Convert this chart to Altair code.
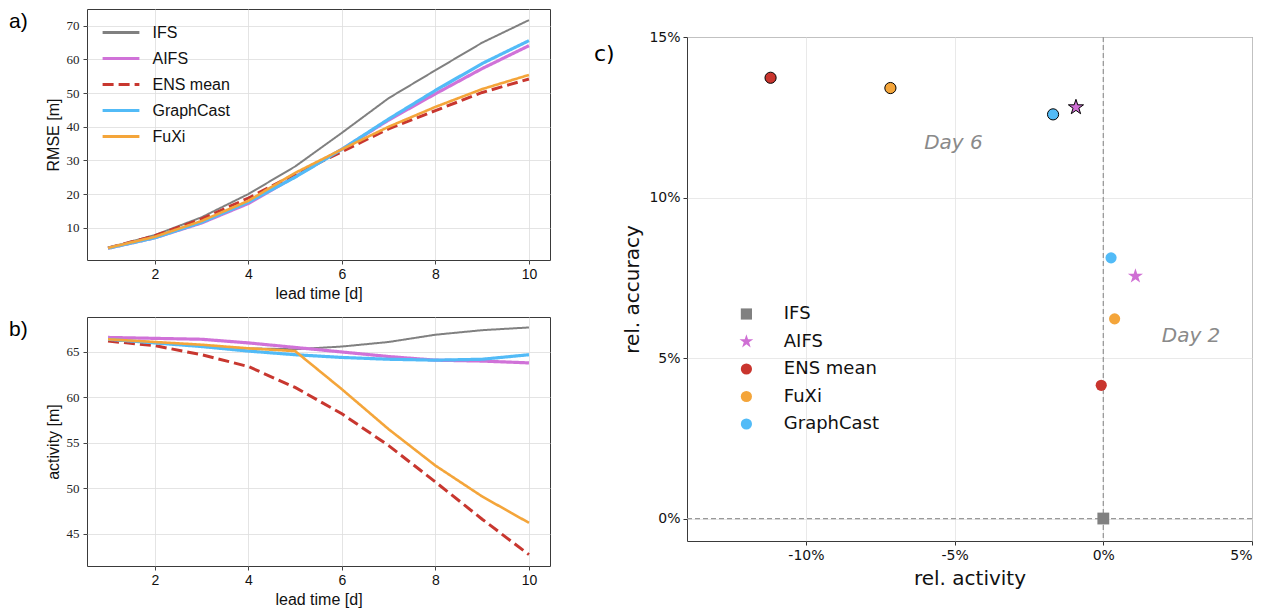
import altair as alt
import pandas as pd

# ---------------- data ----------------
lead_days = [1, 2, 3, 4, 5, 6, 7, 8, 9, 10]
models_ab = ["IFS", "AIFS", "ENS mean", "GraphCast", "FuXi"]

rmse_ifs = [4.0, 7.8, 13.1, 20.0, 28.2, 38.2, 48.5, 56.8, 65.0, 71.7]
rmse_aifs = [3.9, 7.0, 11.4, 17.2, 25.2, 33.3, 42.0, 49.8, 57.3, 64.1]
rmse_ens = [4.0, 7.6, 12.6, 18.8, 25.9, 32.6, 39.4, 44.8, 50.2, 54.2]
rmse_graphcast = [3.9, 7.0, 11.6, 17.6, 25.0, 33.3, 42.3, 50.8, 58.8, 65.6]
rmse_fuxi = [4.0, 7.3, 12.0, 18.0, 26.3, 33.3, 40.0, 45.9, 51.2, 55.4]

act_ifs = [66.3, 66.0, 65.7, 65.4, 65.3, 65.6, 66.1, 66.9, 67.4, 67.7]
act_aifs = [66.6, 66.5, 66.4, 66.0, 65.5, 65.0, 64.5, 64.1, 64.0, 63.8]
act_ens = [66.2, 65.7, 64.7, 63.4, 61.1, 58.2, 54.7, 50.7, 46.6, 42.7]
act_graphcast = [66.4, 66.0, 65.6, 65.1, 64.7, 64.4, 64.2, 64.1, 64.2, 64.7]
act_fuxi = [66.4, 66.1, 65.8, 65.4, 65.1, 60.9, 56.5, 52.5, 49.1, 46.2]

rmse_ticks = [10, 20, 30, 40, 50, 60, 70]
act_ticks = [45, 50, 55, 60, 65]
lead_ticks = [2, 4, 6, 8, 10]

models_c = ["IFS", "AIFS", "ENS mean", "FuXi", "GraphCast"]
day6_models = ["ENS mean", "FuXi", "GraphCast", "AIFS"]
day6_rel_activity = [-11.19, -7.16, -1.69, -0.92]
day6_rel_accuracy = [13.73, 13.41, 12.59, 12.81]
day2_models = ["IFS", "ENS mean", "FuXi", "GraphCast", "AIFS"]
day2_rel_activity = [0.0, -0.07, 0.38, 0.26, 1.08]
day2_rel_accuracy = [0.0, 4.15, 6.22, 8.12, 7.55]
day_labels = ["Day 6", "Day 2"]
day_label_activity = [-5.04, 2.95]
day_label_accuracy = [11.69, 5.70]
zero_line = [0.0]
pct_ticks_x = [-10, -5, 0, 5]
pct_ticks_y = [0, 5, 10, 15]
panel_labels = ["a)", "b)", "c)"]

# ---------------- styles ----------------
line_colors = ["#808080", "#d072d8", "#c8372f", "#52bbf7", "#f4a53a"]
line_dashes = [[1, 0], [1, 0], [11, 5], [1, 0], [1, 0]]
line_widths = [2.0, 3.2, 3.0, 3.2, 2.6]
c_colors = ["#808080", "#cf6fd4", "#c9352e", "#f4a53a", "#52bbf7"]
STAR = ("M0,-1.3L0.2919,-0.4017L1.2364,-0.4017L0.4723,0.1534L0.7641,1.0517"
        "L0,0.4966L-0.7641,1.0517L-0.4723,0.1534L-1.2364,-0.4017L-0.2919,-0.4017Z")
c_shapes = ["square", STAR, "circle", "circle", "circle"]
LINE_SYMBOL = "M-2.3,0L2.3,0"


def long_df(series):
    rows = []
    for m, vals in zip(models_ab, series):
        for d, v in zip(lead_days, vals):
            rows.append({"model": m, "lead": d, "value": v})
    return pd.DataFrame(rows)


df_rmse = long_df([rmse_ifs, rmse_aifs, rmse_ens, rmse_graphcast, rmse_fuxi])
df_act = long_df([act_ifs, act_aifs, act_ens, act_graphcast, act_fuxi])

legend_a = alt.Legend(
    title=None, orient="none", legendX=24.5, legendY=14, padding=0,
    symbolType=LINE_SYMBOL, symbolSize=256, symbolStrokeWidth=3,
    labelOffset=22, rowPadding=8, labelFont="Liberation Sans",
    labelFontSize=16, labelColor="#111111",
)

ab_x_axis = dict(
    values=lead_ticks, title="lead time [d]", labelFont="Liberation Sans",
    labelFontSize=14, labelColor="#111111", labelPadding=3, tickSize=4,
    tickColor="#444444", domain=False, grid=True, gridColor="#dddddd",
    gridWidth=0.8, titleFont="Liberation Sans", titleFontSize=16,
    titleFontWeight="normal", titleColor="#111111", titlePadding=4,
)
ab_y_style = dict(
    labelFont="Liberation Serif", labelFontSize=13, labelColor="#222222",
    labelPadding=4, tickSize=4, tickColor="#444444", domain=False, grid=True,
    gridColor="#dddddd", gridWidth=0.8, titleFont="Liberation Sans",
    titleFontSize=16, titleFontWeight="normal", titleColor="#111111",
    titlePadding=5,
)


def line_panel(df, ydomain, yticks, ytitle, show_legend, label, h):
    layers = []
    for m, w in zip(models_ab, line_widths):
        enc = dict(
            x=alt.X("lead:Q", scale=alt.Scale(domain=[0.55, 10.45], nice=False, zero=False),
                    axis=alt.Axis(**ab_x_axis)),
            y=alt.Y("value:Q", scale=alt.Scale(domain=ydomain, nice=False, zero=False),
                    axis=alt.Axis(values=yticks, title=ytitle, **ab_y_style)),
            color=alt.Color("model:N", scale=alt.Scale(domain=models_ab, range=line_colors),
                            legend=legend_a if show_legend else None),
            strokeDash=alt.StrokeDash("model:N", scale=alt.Scale(domain=models_ab, range=line_dashes),
                                      legend=legend_a if show_legend else None),
            order=alt.Order("lead:Q"),
        )
        layers.append(
            alt.Chart(df).transform_filter(alt.datum.model == m)
            .mark_line(strokeWidth=w, strokeCap="butt").encode(**enc)
        )
    lab = alt.Chart(pd.DataFrame({"t": [label]})).mark_text(
        align="left", baseline="top", fontSize=21, font="Liberation Sans", color="black"
    ).encode(x=alt.value(-78), y=alt.value(2), text="t:N")
    return alt.layer(*layers, lab).properties(width=463, height=h)


panel_a = line_panel(df_rmse, [0.4, 75.0], rmse_ticks, "RMSE [m]", True, panel_labels[0], 251)
panel_b = line_panel(df_act, [41.45, 68.85], act_ticks, "activity [m]", False, panel_labels[1], 249)

# ---------------- panel c ----------------
df6 = pd.DataFrame({"model": day6_models, "act": day6_rel_activity, "acc": day6_rel_accuracy})
df2 = pd.DataFrame({"model": day2_models, "act": day2_rel_activity, "acc": day2_rel_accuracy})
df_lab = pd.DataFrame({"t": day_labels, "act": day_label_activity, "acc": day_label_accuracy})
df_zero = pd.DataFrame({"act": zero_line, "acc": zero_line})

c_axis_common = dict(
    labelExpr="datum.value + '%'", labelFont="DejaVu Sans", labelFontSize=14,
    labelColor="#111111", labelPadding=3, tickSize=4, tickColor="#333333",
    domain=False, grid=True, gridColor="#e3e3e3", gridWidth=0.8,
    titleFont="DejaVu Sans", titleFontSize=20, titleFontWeight="normal",
    titleColor="#111111",
)


def cx():
    return alt.X("act:Q", scale=alt.Scale(domain=[-14, 5], nice=False, zero=False),
                 axis=alt.Axis(values=pct_ticks_x, title="rel. activity", titlePadding=6, **c_axis_common))


def cy():
    return alt.Y("acc:Q", scale=alt.Scale(domain=[-0.7, 15], nice=False, zero=False),
                 axis=alt.Axis(values=pct_ticks_y, title="rel. accuracy", titlePadding=6, **c_axis_common))


legend_c = alt.Legend(
    title=None, orient="none", legendX=50.4, legendY=268, padding=0,
    symbolSize=125, symbolStrokeWidth=0, labelOffset=28.4, rowPadding=9.5,
    labelFont="DejaVu Sans", labelFontSize=18, labelColor="#111111",
)


def ccolor():
    return alt.Color("model:N", scale=alt.Scale(domain=models_c, range=c_colors), legend=legend_c)


def cshape():
    return alt.Shape("model:N", scale=alt.Scale(domain=models_c, range=c_shapes), legend=legend_c)


vline = alt.Chart(df_zero).mark_rule(color="#999999", strokeDash=[5, 3], strokeWidth=1.3).encode(x=cx())
hline = alt.Chart(df_zero).mark_rule(color="#999999", strokeDash=[5, 3], strokeWidth=1.3).encode(y=cy())

day_text = alt.Chart(df_lab).mark_text(
    font="DejaVu Sans", fontSize=20, fontStyle="italic", color="#8a8a8a"
).encode(x=cx(), y=cy(), text="t:N")


def pts(df, cond, size, outline):
    kw = dict(filled=True, size=size, opacity=1)
    if outline:
        kw.update(stroke="black", strokeWidth=1)
    return alt.Chart(df).transform_filter(cond).mark_point(**kw).encode(
        x=cx(), y=cy(), color=ccolor(), shape=cshape())


p6c = pts(df6, alt.datum.model != "AIFS", 125, True)
p6s = pts(df6, alt.datum.model == "AIFS", 150, True)
p2c = pts(df2, (alt.datum.model != "AIFS") & (alt.datum.model != "IFS"), 125, False)
p2s = pts(df2, alt.datum.model == "AIFS", 150, False)
p2q = pts(df2, alt.datum.model == "IFS", 140, False)

clab = alt.Chart(pd.DataFrame({"t": [panel_labels[2]]})).mark_text(
    align="left", baseline="middle", fontSize=22, font="DejaVu Sans", color="black"
).encode(x=alt.value(-93), y=alt.value(17), text="t:N")

panel_c = alt.layer(hline, vline, p6c, p6s, p2c, p2s, p2q, day_text, clab).properties(
    width=565, height=504)

# invisible strip above panel c, so that its frame starts lower than panel a's
spacer = alt.Chart(pd.DataFrame({"t": [""]})).mark_point(opacity=0, size=4).encode(
    x=alt.value(10), y=alt.value(14)
).properties(width=565, height=1, view=alt.ViewBackground(stroke="transparent"))

right = alt.vconcat(spacer, panel_c, spacing=27, bounds="flush").resolve_scale(
    color="independent", shape="independent")

left = alt.vconcat(panel_a, panel_b, spacing=57, bounds="flush").resolve_scale(
    color="independent", strokeDash="independent")

chart = alt.hconcat(left, right, spacing=42).resolve_scale(
    color="independent", strokeDash="independent", shape="independent"
).properties(
    padding={"left": 0, "top": 0, "right": 0, "bottom": 0}
).configure_view(stroke="#3a3a3a", strokeWidth=1)

chart.save("out.html", embed_options={"renderer": "svg", "actions": False})
